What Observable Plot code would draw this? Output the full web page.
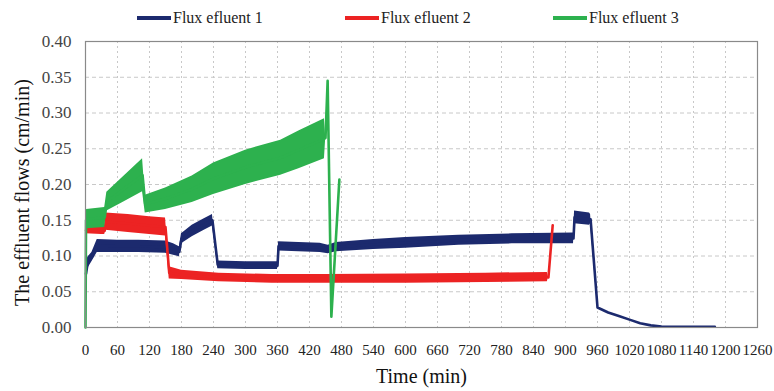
<!DOCTYPE html>
<html><head><meta charset="utf-8">
<script src="https://cdn.jsdelivr.net/npm/d3@7"></script>
<script src="https://cdn.jsdelivr.net/npm/@observablehq/plot@0.6"></script>
<style>
body{margin:0;background:#fff;font-family:"Liberation Serif","Times New Roman",serif}
svg, svg text{font-family:"Liberation Serif","Times New Roman",serif !important}
#legend{position:relative;height:26px;width:774px}
.item{position:absolute;top:8px;display:flex;align-items:center;font-size:16px;color:#222;white-space:nowrap;height:20px}
.sw{width:34px;height:4px;margin-right:2px}
</style></head><body>
<div id="legend"></div><div id="chart"></div>
<script>
const seriesNames = ["Flux efluent 1", "Flux efluent 2", "Flux efluent 3"];
const seriesColors = ["#1c2a6e", "#ec2323", "#2db14e"];
const xTicks = [0, 60, 120, 180, 240, 300, 360, 420, 480, 540, 600, 660, 720, 780, 840, 900, 960, 1020, 1080, 1140, 1200, 1260];
const yTicks = [0, 0.05, 0.10, 0.15, 0.20, 0.25, 0.30, 0.35, 0.40];

// Flux efluent 1 (band low / high envelopes)
const time1 = [1, 4, 12, 22, 60, 100, 150, 165, 176, 180, 200, 220, 238, 242, 248, 300, 360, 362, 400, 440, 455, 470, 540, 600, 700, 800, 915, 917, 945, 947, 960, 980, 1000, 1020, 1040, 1060, 1080, 1120, 1180];
const low1  = [0.075, 0.082, 0.092, 0.105, 0.105, 0.105, 0.104, 0.101, 0.099, 0.117, 0.127, 0.135, 0.142, 0.120, 0.082, 0.081, 0.081, 0.107, 0.106, 0.105, 0.103, 0.106, 0.109, 0.111, 0.115, 0.117, 0.117, 0.145, 0.143, 0.145, 0.028, 0.021, 0.016, 0.011, 0.006, 0.003, 0.0015, 0.001, 0.001];
const high1 = [0.075, 0.098, 0.105, 0.123, 0.122, 0.122, 0.121, 0.117, 0.113, 0.131, 0.143, 0.151, 0.158, 0.130, 0.093, 0.092, 0.092, 0.120, 0.119, 0.118, 0.115, 0.119, 0.123, 0.126, 0.129, 0.131, 0.132, 0.163, 0.160, 0.158, 0.028, 0.021, 0.016, 0.011, 0.006, 0.003, 0.0015, 0.001, 0.001];

// Flux efluent 2
const time2 = [1, 30, 36, 38, 80, 120, 150, 157, 180, 250, 350, 450, 600, 750, 866, 868, 876];
const low2  = [0.131, 0.130, 0.130, 0.136, 0.133, 0.130, 0.128, 0.068, 0.067, 0.064, 0.062, 0.062, 0.062, 0.063, 0.064, 0.070, 0.143];
const high2 = [0.141, 0.140, 0.140, 0.160, 0.158, 0.155, 0.153, 0.085, 0.080, 0.076, 0.074, 0.074, 0.075, 0.076, 0.077, 0.070, 0.143];

// Flux efluent 3
const time3 = [0, 1, 2, 36, 40, 70, 107, 112, 150, 200, 240, 300, 366, 400, 448, 450, 454, 461, 476];
const low3  = [0, 0.150, 0.138, 0.140, 0.163, 0.175, 0.190, 0.160, 0.165, 0.175, 0.186, 0.200, 0.213, 0.222, 0.236, 0.260, 0.345, 0.015, 0.207];
const high3 = [0, 0.150, 0.165, 0.168, 0.189, 0.210, 0.236, 0.185, 0.195, 0.212, 0.230, 0.248, 0.262, 0.275, 0.292, 0.270, 0.345, 0.015, 0.207];

const series = [[time1, low1, high1], [time2, low2, high2], [time3, low3, high3]].map(([t, lo, hi], k) =>
  t.map((x, i) => ({t: x, lo: lo[i], hi: hi[i], mid: (lo[i] + hi[i]) / 2, s: seriesNames[k]})));

// legend
const legend = document.getElementById("legend");
const legendLeft = [137, 345, 553];
seriesNames.forEach((n, i) => {
  const d = document.createElement("div");
  d.className = "item";
  d.style.left = legendLeft[i] + "px";
  d.innerHTML = `<span class="sw" style="background:${seriesColors[i]}"></span><span>${n}</span>`;
  legend.appendChild(d);
});

const FF = "Liberation Serif";
const marks = [
  Plot.ruleY(yTicks.slice(1, -1), {stroke: "#c8c8c8", strokeDasharray: "4,3", strokeWidth: 1}),
  Plot.ruleX(xTicks.slice(1, -1), {stroke: "#c8c8c8", strokeDasharray: "2,3", strokeWidth: 1}),
];
series.forEach((rows, k) => {
  marks.push(Plot.areaY(rows, {x: "t", y1: "lo", y2: "hi", fill: seriesColors[k]}));
  marks.push(Plot.line(rows, {x: "t", y: "mid", stroke: seriesColors[k], strokeWidth: 2.6}));
});
marks.push(
  Plot.frame({stroke: "#8a8a8a", strokeWidth: 1.2}),
  Plot.axisX({ticks: xTicks, tickFormat: d => String(d), tickSize: 0, tickPadding: 17, fontSize: 15, fontFamily: FF, label: null, fill: "#222"}),
  Plot.axisY({ticks: yTicks, tickFormat: d3.format(".2f"), tickSize: 0, tickPadding: 14, fontSize: 17, fontFamily: FF, label: null, fill: "#444"}),
  Plot.text(["The effluent flows (cm/min)"], {frameAnchor: "left", textAnchor: "middle", lineAnchor: "middle", rotate: -90, dx: -63, dy: 8, fontSize: 20, fontFamily: FF, fill: "#111"}),
  Plot.text(["Time (min)"], {frameAnchor: "bottom", textAnchor: "middle", lineAnchor: "middle", dy: 49, fontSize: 20, fontFamily: FF, fill: "#111"})
);

const chart = Plot.plot({
  width: 774,
  height: 365,
  marginTop: 15,
  marginBottom: 64,
  marginLeft: 85,
  marginRight: 17,
  x: {domain: [0, 1260]},
  y: {domain: [0, 0.4]},
  style: {fontFamily: FF, fontSize: "15px", background: "#fff", color: "#222"},
  marks
});
document.getElementById("chart").appendChild(chart);
</script>
</body></html>
